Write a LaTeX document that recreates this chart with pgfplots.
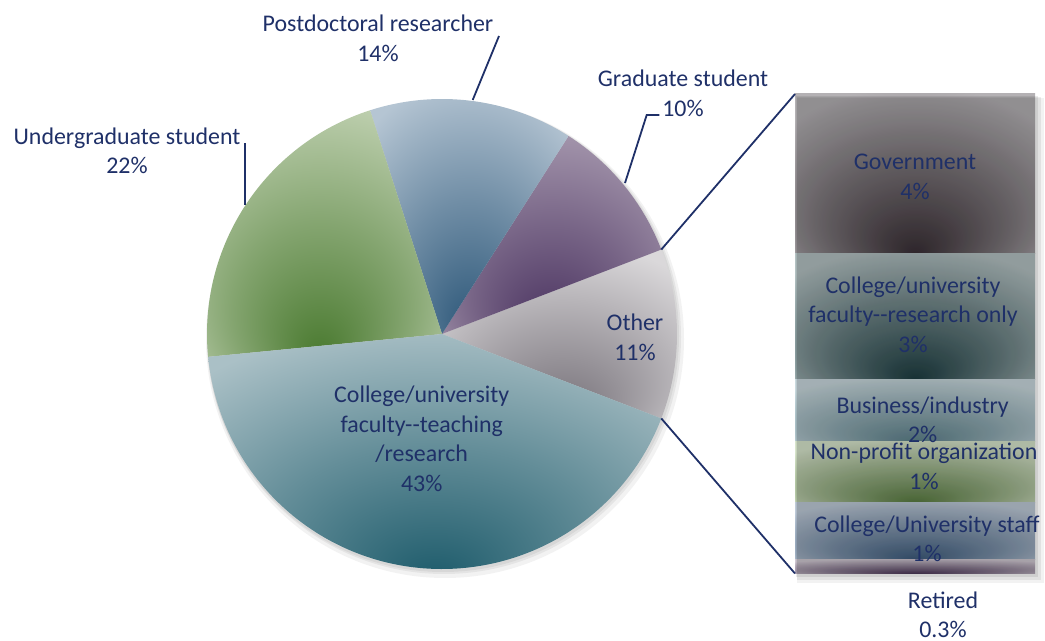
\documentclass[border=0pt]{standalone}
\usepackage{fontspec}
\setmainfont{Carlito}
\usepackage{pgfplots}
\usepackage{pgfplotstable}
\pgfplotsset{compat=1.18}

\definecolor{txt}{HTML}{1F3068}
\definecolor{facD}{HTML}{1D5B6B}\definecolor{facL}{HTML}{AAC0C6}
\definecolor{ugD}{HTML}{4A7A30}\definecolor{ugL}{HTML}{BFD0B0}
\definecolor{pdD}{HTML}{2B5678}\definecolor{pdL}{HTML}{B5C5D3}
\definecolor{grD}{HTML}{48305E}\definecolor{grL}{HTML}{A698AE}
\definecolor{otD}{HTML}{757078}\definecolor{otL}{HTML}{DAD8DA}
\definecolor{govD}{HTML}{3A3036}\definecolor{govL}{HTML}{B4B1B4}
\definecolor{resD}{HTML}{1E3E42}\definecolor{resL}{HTML}{B4C2C3}
\definecolor{busD}{HTML}{5E828C}\definecolor{busL}{HTML}{CADADF}
\definecolor{npD}{HTML}{5A7C42}\definecolor{npL}{HTML}{D8E5CC}
\definecolor{stD}{HTML}{3E5C7D}\definecolor{stL}{HTML}{BFCBD9}
\definecolor{reD}{HTML}{4A3556}\definecolor{reL}{HTML}{D0C8D2}

% radial gradient, dark at the bottom centre of the shape's box
\newcommand\mkshade[3]{%
  \colorlet{tmpmid}{#2!50!#3}%
  \pgfdeclareradialshading{#1}{\pgfpoint{0bp}{-25bp}}{color(0bp)=(#2); color(18bp)=(tmpmid); color(35bp)=(#3); color(50bp)=(#3)}}
\mkshade{shFac}{facD}{facL}
\mkshade{shUg}{ugD}{ugL}
\mkshade{shPd}{pdD}{pdL}
\mkshade{shGr}{grD}{grL}
\mkshade{shOt}{otD}{otL}
\mkshade{shGov}{govD}{govL}
\mkshade{shRes}{resD}{resL}
\mkshade{shBus}{busD}{busL}
\mkshade{shNp}{npD}{npL}
\mkshade{shSt}{stD}{stL}
\mkshade{shRe}{reD}{reL}

\newcommand\lbl{\fontsize{11.95}{14.75}\selectfont}

% pie values (%)
\pgfplotstableread{
name value
faculty 42.6
undergrad 21.6
postdoc 14.0
grad 10.1
other 11.7
}\pietable

\begin{document}
\begin{tikzpicture}
\pgfplotstablegetelem{0}{value}\of\pietable \pgfmathsetmacro\vFac{\pgfplotsretval}
\pgfplotstablegetelem{1}{value}\of\pietable \pgfmathsetmacro\vUg{\pgfplotsretval}
\pgfplotstablegetelem{2}{value}\of\pietable \pgfmathsetmacro\vPd{\pgfplotsretval}
\pgfplotstablegetelem{3}{value}\of\pietable \pgfmathsetmacro\vGr{\pgfplotsretval}
\pgfplotstablegetelem{4}{value}\of\pietable \pgfmathsetmacro\vOt{\pgfplotsretval}
\pgfmathsetmacro\aO{\vOt*1.8}
\pgfmathsetmacro\aG{\aO+\vGr*3.6}
\pgfmathsetmacro\aP{\aG+\vPd*3.6}
\pgfmathsetmacro\aU{\aP+\vUg*3.6}
\pgfmathsetmacro\aF{\aU+\vFac*3.6}
\def\R{117.5pt}

% bar of "Other"
\begin{axis}[
    at={(397.5pt,33.75pt)}, anchor=south west,
    width=120pt, height=239.75pt, scale only axis,
    xmin=-0.5, xmax=0.5, ymin=0, ymax=11.7,
    ybar stacked, bar width=120pt,
    hide axis, clip=false]
\fill[black,opacity=0.05] ([xshift=1pt,yshift=-2pt]axis cs:-0.5,11.7) rectangle ([xshift=4.5pt,yshift=-5pt]axis cs:0.5,0);
\fill[black,opacity=0.07] ([xshift=1pt,yshift=-1.5pt]axis cs:-0.5,11.7) rectangle ([xshift=3pt,yshift=-3.5pt]axis cs:0.5,0);
\fill[black,opacity=0.08] ([xshift=0.5pt,yshift=-1pt]axis cs:-0.5,11.7) rectangle ([xshift=1.5pt,yshift=-2pt]axis cs:0.5,0);
\addplot[draw=none, shade, shading=shRe]  coordinates {(0,0.35)};
\addplot[draw=none, shade, shading=shSt]  coordinates {(0,1.38)};
\addplot[draw=none, shade, shading=shNp]  coordinates {(0,1.48)};
\addplot[draw=none, shade, shading=shBus] coordinates {(0,1.53)};
\addplot[draw=none, shade, shading=shRes] coordinates {(0,3.06)};
\addplot[draw=none, shade, shading=shGov] coordinates {(0,3.90)};
\end{axis}

% pie, labels and connectors (pixel-like coordinates, y downwards)
\begin{axis}[
    width=522.5pt, height=320.5pt, scale only axis,
    xmin=0, xmax=1045, ymin=0, ymax=641, y dir=reverse,
    hide axis, clip=false]
\path (axis cs:0,0) rectangle (axis cs:1045,641);
\fill[black,opacity=0.05] (axis cs:445,339) circle[radius=119.5pt];
\fill[black,opacity=0.06] (axis cs:444,337) circle[radius=118.5pt];
\fill[black,opacity=0.06] (axis cs:443,336) circle[radius=118pt];
\shade[shading=shOt]  (axis cs:442,334) -- ++(-\aO:\R) arc[start angle=-\aO, end angle=\aO, radius=\R] -- cycle;
\shade[shading=shGr]  (axis cs:442,334) -- ++(\aO:\R) arc[start angle=\aO, end angle=\aG, radius=\R] -- cycle;
\shade[shading=shPd]  (axis cs:442,334) -- ++(\aG:\R) arc[start angle=\aG, end angle=\aP, radius=\R] -- cycle;
\shade[shading=shUg]  (axis cs:442,334) -- ++(\aP:\R) arc[start angle=\aP, end angle=\aU, radius=\R] -- cycle;
\shade[shading=shFac] (axis cs:442,334) -- ++(\aU:\R) arc[start angle=\aU, end angle=\aF, radius=\R] -- cycle;

% series lines to the bar
\draw[txt, line width=0.9pt] ([shift={(\aO:\R)}]axis cs:442,334) -- (axis cs:795,94);
\draw[txt, line width=0.9pt] ([shift={(-\aO:\R)}]axis cs:442,334) -- (axis cs:795,573.5);

% leader lines
\draw[txt, line width=0.9pt] (axis cs:472.7,100) -- (axis cs:499,36);
\draw[txt, line width=0.9pt] (axis cs:625,183) -- (axis cs:646.7,115) -- (axis cs:659.3,115);
\draw[txt, line width=0.9pt] (axis cs:245,205) -- (axis cs:245,143);

\begin{scope}[every node/.style={txt, font=\lbl, align=center, inner sep=0pt}]
\node at (axis cs:378,38.2) {Postdoctoral researcher\\14\%};
\node at (axis cs:683,93.5) {Graduate student\\10\%};
\node at (axis cs:127,151) {Undergraduate student\\22\%};
\node at (axis cs:635,337.5) {Other\\11\%};
\node at (axis cs:421.7,439) {College/university\\faculty-\kern0pt-teaching\\/research\\43\%};
\node at (axis cs:915,176.7) {Government\\4\%};
\node at (axis cs:913,314.7) {College/university\\faculty-\kern0pt-research only\\3\%};
\node at (axis cs:922.7,420) {Business/industry\\2\%};
\node at (axis cs:924,466.3) {Non-profit organization\\1\%};
\node at (axis cs:927,538.7) {College/University staff\\1\%};
\node at (axis cs:943,615) {Retired\\0.3\%};
\end{scope}
\end{axis}
\end{tikzpicture}
\end{document}
